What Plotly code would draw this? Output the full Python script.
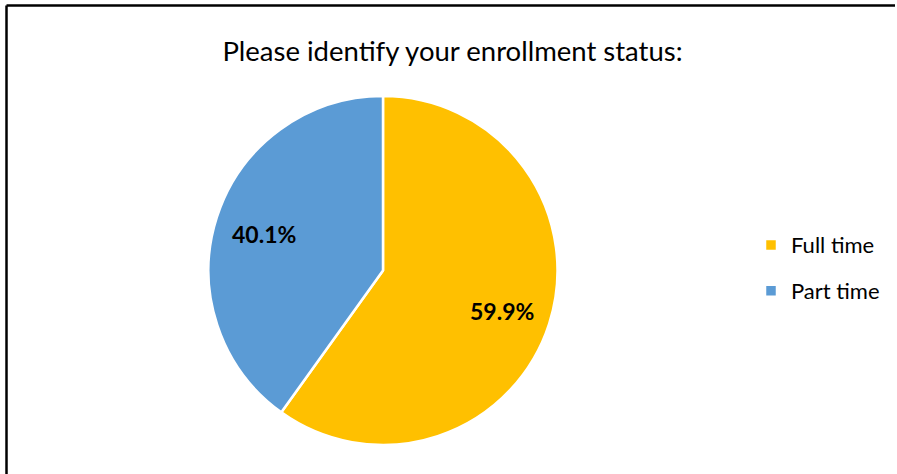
import math
import plotly.graph_objects as go

labels = ["Full time", "Part time"]
values = [59.9, 40.1]
colors = ["#FFC000", "#5B9BD5"]
title_text = "Please identify your enrollment status:"

W, H = 897, 474
# pie placement (pixels)
PX0, PX1, PY0, PY1 = 208, 558, 96, 445
cx, cy, R = (PX0 + PX1) / 2, (PY0 + PY1) / 2, (PX1 - PX0) / 2

legend_labels = [f"<span style='font-size:22px;baseline-shift:5px'>{l}</span>" for l in labels]

fig = go.Figure(go.Pie(
    labels=legend_labels, values=values, sort=False, direction="clockwise", rotation=0,
    marker=dict(colors=colors, line=dict(color="white", width=2.5)),
    textinfo="none",
    domain=dict(x=[PX0 / W, PX1 / W], y=[1 - PY1 / H, 1 - PY0 / H]),
    hovertemplate="%{label}: %{percent:.1%}<extra></extra>",
))

# percent labels placed at the mid-angle of each slice
total = sum(values)
annotations = []
start = 0.0
for v in values:
    mid = (start + v / 2) / total * 2 * math.pi
    start += v
    x = cx + 0.715 * R * math.sin(mid)
    y = cy - 0.715 * R * math.cos(mid) + 2
    annotations.append(dict(
        x=x / W, y=1 - y / H, xref="paper", yref="paper", showarrow=False,
        text=f"<b>{v / total * 100:.1f}%</b>",
        font=dict(family="Lato", size=23, color="black"),
        xanchor="center", yanchor="middle",
    ))

fig.update_layout(
    width=W, height=H, margin=dict(l=0, r=0, t=0, b=0),
    paper_bgcolor="white", plot_bgcolor="white",
    title=dict(text=title_text, x=452.5 / W, xanchor="center", y=1 - 51 / H, yanchor="middle",
               font=dict(family="Lato", size=27.5, color="black")),
    legend=dict(x=751 / W, xanchor="left", y=1 - 268 / H, yanchor="middle",
                font=dict(family="Lato", size=33, color="black"), itemwidth=30),
    showlegend=True,
    annotations=annotations,
    shapes=[
        dict(type="line", xref="paper", yref="paper", x0=6.5 / W, x1=895 / W, y0=1 - 5.5 / H, y1=1 - 5.5 / H,
             line=dict(color="black", width=2.5)),
        dict(type="line", xref="paper", yref="paper", x0=6.5 / W, x1=6.5 / W, y0=0, y1=1 - 5.5 / H,
             line=dict(color="black", width=2.5)),
    ],
)
fig.write_html("out.html", config={"displayModeBar": False},
               post_script="document.body.style.margin='0px';")
